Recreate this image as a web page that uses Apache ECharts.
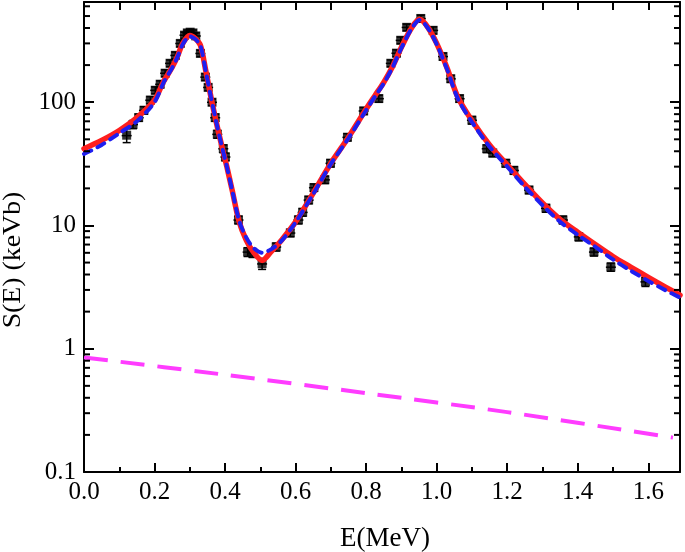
<!DOCTYPE html>
<html>
<head>
<meta charset="utf-8">
<script src="https://cdn.jsdelivr.net/npm/echarts@6/dist/echarts.min.js"></script>
<style>html,body{margin:0;padding:0;background:#fff}#c{width:685px;height:552px}</style>
</head>
<body>
<div id="c"></div>
<script>
// Experimental data points
const dataE = [0.121,0.139,0.155,0.170,0.188,0.202,0.216,0.230,0.244,0.259,0.273,0.285,0.293,0.301,0.309,0.317,0.330,0.344,0.352,0.363,0.372,0.378,0.395,0.401,0.438,0.464,0.478,0.505,0.545,0.585,0.608,0.620,0.637,0.652,0.683,0.699,0.747,0.793,0.836,0.870,0.886,0.898,0.915,0.955,0.990,1.018,1.040,1.065,1.100,1.142,1.159,1.196,1.219,1.262,1.310,1.358,1.403,1.446,1.494,1.592];
const dataS = [54,66,75,86,104,125,140,172,207,240,300,350,365,370,365,345,249,160,132,100,75,55,42,36,11.1,6.1,6.0,4.9,6.7,8.7,11.1,12.8,16.1,20.3,23.5,32,52,85,107,207,250,318,405,478,383,235,155,107,71.5,42,38.7,32,28,19.4,13.8,11.1,8.1,6.1,4.6,3.5];
const dataErr = [7,5,5,6,7,8,9,11,13,15,18,20,20,20,20,20,15,10,8,6,5,4,3,2.5,0.8,0.5,0.5,0.5,0.5,0.6,0.8,0.9,1.1,1.4,1.6,2.2,3.5,5.5,7,13,16,20,25,30,25,15,10,7,5,3,2.6,2.2,2,1.3,1,0.8,0.6,0.45,0.35,0.3];
// Fit curves
const fitE = [0,0.05,0.1,0.15,0.2,0.225,0.25,0.265,0.28,0.3,0.315,0.33,0.345,0.36,0.375,0.39,0.405,0.42,0.44,0.46,0.48,0.505,0.53,0.56,0.6,0.65,0.7,0.75,0.8,0.825,0.85,0.875,0.9,0.93,0.952,0.975,1.0,1.03,1.06,1.1,1.15,1.2,1.25,1.3,1.35,1.4,1.45,1.5,1.55,1.6,1.65,1.69];
const redS = [42,49,59,75,104,146,192,235,300,348,330,290,182,110,69,45,30,19.4,10.7,7.6,6.1,5.2,6.1,7.6,10.7,18.3,32,52,88,113,145,195,279,405,470,405,300,188,110,71,45,31,21.5,15.2,11.2,8.8,7.0,5.6,4.6,3.8,3.15,2.72];
const blueS = [38,45,56,70,100,143,190,232,295,342,325,288,180,110,69,45,30,19.4,10.9,8.0,6.6,6.0,6.4,7.5,10.6,18,31.5,51,86,111,142,192,275,400,465,400,295,183,107,69,43.5,30,20.6,14.6,10.7,8.4,6.7,5.3,4.3,3.55,2.97,2.6];
// Background (magenta dashed)
const bgE = [0,0.4,0.8,1.2,1.67];
const bgS = [0.85,0.615,0.436,0.306,0.19];
// Axes
const xTickLabels = ['0.0','0.2','0.4','0.6','0.8','1.0','1.2','1.4','1.6'];
const yTickLabels = ['0.1','1','10','100'];

const X_MAX = 1.69, Y_MIN = 0.1, Y_MAX = 650;
const FONT = '"Liberation Serif", "Times New Roman", serif';

const minorVals = [];
for (let d = -1; d <= 2; d++) for (let m = 2; m <= 9; m++) { const v = m * Math.pow(10, d); if (v < Y_MAX) minorVals.push(v); }

const zip = (a, b) => a.map((v, i) => [v, b[i]]);
const chart = echarts.init(document.getElementById('c'), null, {renderer: 'canvas'});

const axisLineStyle = {color: '#000', width: 2};
const option = {
  animation: false,
  backgroundColor: '#fff',
  grid: {left: 84, right: 5, top: 2, bottom: 80, containLabel: false},
  xAxis: [
    {type: 'value', position: 'bottom', min: 0, max: X_MAX, interval: 0.2,
     axisLine: {show: true, onZero: false, lineStyle: axisLineStyle},
     axisTick: {show: true, inside: true, length: 9, lineStyle: {color: '#000', width: 2}},
     splitLine: {show: false},
     axisLabel: {show: true, margin: 8, fontSize: 25, fontFamily: FONT, color: '#000',
       formatter: v => { const i = Math.round(v / 0.2); return Math.abs(v - i * 0.2) < 1e-6 && xTickLabels[i] ? xTickLabels[i] : ''; }}},
    {type: 'value', position: 'bottom', min: 0, max: X_MAX, interval: 0.1,
     axisLine: {show: false, onZero: false}, axisTick: {show: true, inside: true, length: 5, lineStyle: {color: '#000', width: 2}},
     splitLine: {show: false}, axisLabel: {show: false}},
    {type: 'value', position: 'top', min: 0, max: X_MAX, interval: 0.1,
     axisLine: {show: true, onZero: false, lineStyle: axisLineStyle},
     axisTick: {show: true, inside: true, length: 8, lineStyle: {color: '#000', width: 2}},
     splitLine: {show: false}, axisLabel: {show: false}}
  ],
  yAxis: [
    {type: 'log', logBase: 10, min: Y_MIN, max: Y_MAX, position: 'left',
     axisLine: {show: true, onZero: false, lineStyle: axisLineStyle},
     axisTick: {show: true, inside: true, length: 10, lineStyle: {color: '#000', width: 2}},
     splitLine: {show: false},
     axisLabel: {show: true, margin: 8, fontSize: 25, fontFamily: FONT, color: '#000',
       formatter: v => { const l = Math.round(Math.log10(v)); return Math.abs(Math.log10(v) - l) < 1e-6 && l >= -1 && l <= 2 ? yTickLabels[l + 1] : ''; }}},
    {type: 'log', logBase: 10, min: Y_MIN, max: Y_MAX, position: 'right',
     axisLine: {show: true, onZero: false, lineStyle: axisLineStyle},
     axisTick: {show: true, inside: true, length: 10, lineStyle: {color: '#000', width: 2}},
     splitLine: {show: false}, axisLabel: {show: false}}
  ],
  graphic: [
    {type: 'text', x: 13, y: 260, rotation: Math.PI / 2, scaleX: 1.07,
     style: {text: 'S(E) (keVb)', font: '26px ' + FONT, fill: '#000', textAlign: 'center', textVerticalAlign: 'middle'}},
    {type: 'text', x: 385, y: 539,
     style: {text: 'E(MeV)', font: '27px ' + FONT, fill: '#000', textAlign: 'center', textVerticalAlign: 'middle'}}
  ],
  series: [
    {type: 'custom', name: 'minorTicks', xAxisIndex: 0, yAxisIndex: 0, silent: true, clip: false, z: 5,
     data: minorVals.map(v => [0, v]),
     renderItem: (params, api) => {
       const v = api.value(1);
       const l = api.coord([0, v]); const r = api.coord([X_MAX, v]);
       return {type: 'group', children: [
         {type: 'line', shape: {x1: l[0], y1: l[1], x2: l[0] + 6, y2: l[1]}, style: {stroke: '#000', lineWidth: 2}},
         {type: 'line', shape: {x1: r[0] - 6, y1: r[1], x2: r[0], y2: r[1]}, style: {stroke: '#000', lineWidth: 2}}
       ]};
     }},
    {type: 'custom', name: 'errors', xAxisIndex: 0, yAxisIndex: 0, silent: true, z: 2,
     data: dataE.map((e, i) => [e, dataS[i], dataErr[i]]),
     renderItem: (params, api) => {
       const e = api.value(0), s = api.value(1), er = api.value(2);
       const lo = api.coord([e, s - er]), hi = api.coord([e, s + er]);
       return {type: 'group', children: [
         {type: 'line', shape: {x1: lo[0], y1: lo[1], x2: hi[0], y2: hi[1]}, style: {stroke: '#000', lineWidth: 1.5}},
         {type: 'line', shape: {x1: lo[0] - 4, y1: lo[1], x2: lo[0] + 4, y2: lo[1]}, style: {stroke: '#000', lineWidth: 1.5}},
         {type: 'line', shape: {x1: hi[0] - 4, y1: hi[1], x2: hi[0] + 4, y2: hi[1]}, style: {stroke: '#000', lineWidth: 1.5}},
         {type: 'line', shape: {x1: lo[0] - 5, y1: (lo[1] + hi[1]) / 2, x2: lo[0] + 5, y2: (lo[1] + hi[1]) / 2}, style: {stroke: '#000', lineWidth: 1.5}}
       ]};
     }},
    {type: 'scatter', name: 'data', xAxisIndex: 0, yAxisIndex: 0, z: 2,
     data: zip(dataE, dataS), symbol: 'rect', symbolSize: [9, 9],
     itemStyle: {color: '#000'}},
    {type: 'line', name: 'red', xAxisIndex: 0, yAxisIndex: 0, z: 3,
     data: zip(fitE, redS), smooth: 0.3, showSymbol: false, symbol: 'none',
     lineStyle: {color: '#ff1f1f', width: 5.5, cap: 'round', join: 'round'}},
    {type: 'line', name: 'blue', xAxisIndex: 0, yAxisIndex: 0, z: 4,
     data: zip(fitE, blueS), smooth: 0.3, showSymbol: false, symbol: 'none',
     lineStyle: {color: '#1f1ff0', width: 4, type: [8, 7], cap: 'round'}},
    {type: 'line', name: 'bg', xAxisIndex: 0, yAxisIndex: 0, z: 3,
     data: zip(bgE, bgS), smooth: 0.3, showSymbol: false, symbol: 'none',
     lineStyle: {color: '#ff3cff', width: 4, type: [24, 13]}}
  ]
};
chart.setOption(option);
</script>
</body>
</html>
